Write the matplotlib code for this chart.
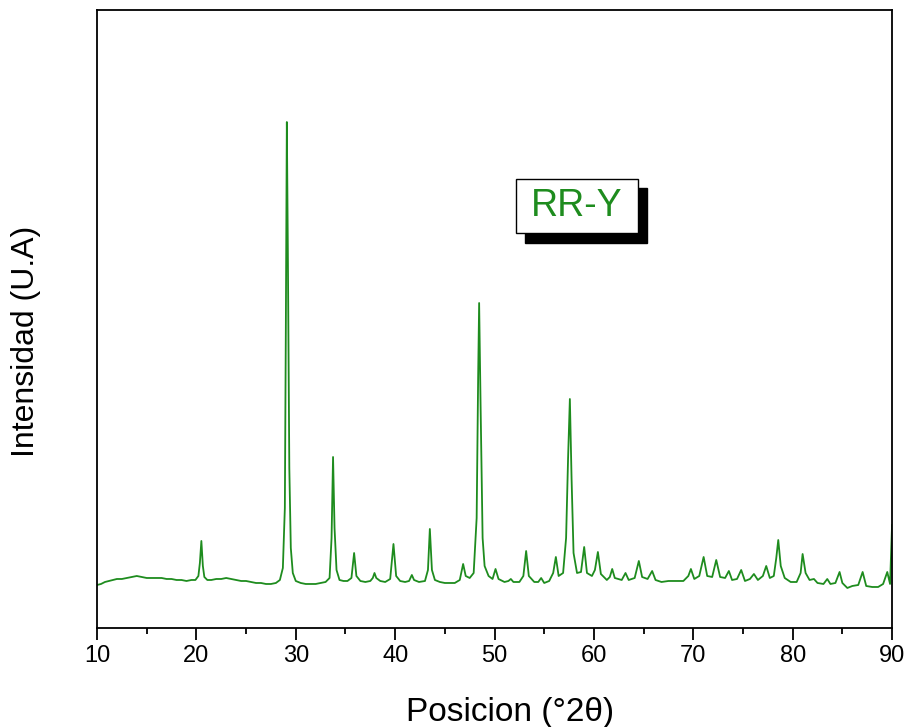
import matplotlib
matplotlib.use("Agg")
import matplotlib.pyplot as plt
from matplotlib.patches import Rectangle

plt.rcParams['font.family'] = ['Liberation Sans', 'DejaVu Sans']

# patron de difraccion RR-Y (intensidad en u.a.)
dos_theta = [
    10.0, 10.4, 10.8, 11.2, 11.6, 12.0, 12.5, 13.0, 13.5, 14.0,
    14.5, 15.0, 15.5, 16.0, 16.5, 17.0, 17.5, 18.0, 18.5, 19.0,
    19.5, 19.9, 20.2, 20.35, 20.5, 20.65, 20.8, 21.1, 21.5, 22.0,
    22.5, 23.0, 23.5, 24.0, 24.5, 25.0, 25.5, 26.0, 26.5, 27.0,
    27.5, 28.0, 28.4, 28.7, 28.9, 29.0, 29.1, 29.2, 29.35, 29.5,
    29.7, 30.0, 30.5, 31.0, 31.5, 32.0, 32.5, 33.0, 33.4, 33.6,
    33.75, 33.9, 34.1, 34.4, 34.8, 35.2, 35.6, 35.87, 36.1, 36.5,
    37.0, 37.5, 37.75, 37.92, 38.1, 38.5, 39.0, 39.5, 39.83, 40.1,
    40.5, 41.0, 41.4, 41.68, 41.9, 42.4, 43.0, 43.3, 43.49, 43.7,
    44.0, 44.5, 45.0, 45.5, 46.0, 46.5, 46.84, 47.1, 47.5, 47.9,
    48.2, 48.35, 48.45, 48.6, 48.8, 49.0, 49.4, 49.8, 50.1, 50.4,
    51.0, 51.4, 51.64, 51.9, 52.5, 52.9, 53.18, 53.45, 54.0, 54.4,
    54.69, 55.0, 55.5, 55.9, 56.17, 56.45, 56.9, 57.2, 57.4, 57.58,
    57.75, 57.95, 58.3, 58.7, 59.02, 59.3, 59.8, 60.1, 60.4, 60.7,
    61.3, 61.6, 61.84, 62.1, 62.8, 63.18, 63.5, 64.1, 64.52, 64.85,
    65.4, 65.86, 66.2, 66.8, 67.5, 68.0, 68.5, 69.0, 69.5, 69.76,
    70.1, 70.6, 71.04, 71.4, 71.9, 72.31, 72.7, 73.2, 73.58, 73.9,
    74.4, 74.82, 75.2, 75.7, 76.1, 76.5, 77.0, 77.34, 77.7, 78.1,
    78.35, 78.55, 78.8, 79.2, 79.8, 80.4, 80.8, 81.0, 81.3, 81.7,
    82.14, 82.5, 83.1, 83.48, 83.8, 84.3, 84.72, 85.0, 85.5, 86.0,
    86.6, 87.04, 87.4, 88.0, 88.6, 89.1, 89.52, 89.8, 90.0,
]
intensidad = [
    43, 44, 46, 47, 48, 49, 49, 50, 51, 52,
    51, 50, 50, 50, 50, 49, 49, 48, 48, 47,
    48, 48, 52, 65, 87, 62, 51, 48, 48, 49,
    49, 50, 49, 48, 47, 47, 46, 45, 45, 44,
    44, 45, 48, 60, 120, 300, 506, 380, 160, 80,
    55, 47, 45, 44, 44, 44, 45, 46, 50, 90,
    171, 100, 58, 48, 47, 47, 50, 75, 52, 47,
    46, 47, 50, 55, 50, 47, 46, 49, 84, 52,
    47, 46, 47, 53, 48, 46, 47, 58, 99, 58,
    48, 46, 45, 45, 45, 48, 64, 52, 50, 55,
    110, 250, 325, 220, 90, 62, 52, 49, 59, 49,
    46, 47, 49, 46, 46, 52, 77, 52, 46, 46,
    50, 45, 47, 55, 71, 52, 55, 90, 170, 229,
    150, 75, 55, 56, 81, 55, 52, 58, 76, 54,
    48, 51, 59, 50, 48, 55, 48, 50, 67, 51,
    49, 57, 48, 46, 47, 47, 47, 47, 52, 59,
    49, 52, 71, 52, 51, 68, 51, 50, 57, 48,
    49, 58, 47, 49, 54, 48, 52, 62, 50, 52,
    70, 88, 62, 50, 46, 46, 55, 74, 55, 48,
    49, 45, 44, 49, 44, 45, 56, 45, 40, 42,
    43, 56, 42, 41, 41, 44, 56, 44, 103,
]

verde = '#1e8c1e'

fig = plt.figure(figsize=(9.11, 7.27), dpi=100)
ax = fig.add_axes([0.1065, 0.1362, 0.8727, 0.8500])

ax.plot(dos_theta, intensidad, color=verde, linewidth=1.3)

ax.set_xlim(10, 90)
ax.set_ylim(0, 618)
ax.set_xticks(range(10, 91, 10))
ax.set_xticks(range(15, 90, 10), minor=True)
ax.set_yticks([])
ax.tick_params(axis='x', which='major', length=8.5, width=1.3, labelsize=17, pad=4)
ax.tick_params(axis='x', which='minor', length=4.5, width=1.3)
for s in ax.spines.values():
    s.set_linewidth(1.3)

ax.set_xlabel('Posicion (°2θ)', fontsize=24)
ax.set_ylabel('Intensidad (U.A)', fontsize=23)
ax.xaxis.set_label_coords(0.52, -0.112)
ax.yaxis.set_label_coords(-0.0704, 0.463)

# recuadro con sombra
ax.add_patch(Rectangle((0.538, 0.623), 0.1535, 0.089, transform=ax.transAxes,
                       facecolor='black', edgecolor='black', zorder=3))
ax.add_patch(Rectangle((0.527, 0.639), 0.1535, 0.0874, transform=ax.transAxes,
                       facecolor='white', edgecolor='black', linewidth=1, zorder=4))
ax.text(0.6035, 0.683, 'RR-Y', transform=ax.transAxes, color=verde,
        fontsize=27, ha='center', va='center', zorder=5)

fig.savefig('out.png', dpi=100)
